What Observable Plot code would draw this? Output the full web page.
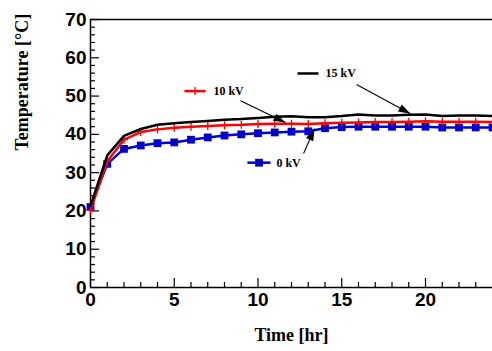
<!DOCTYPE html>
<html><head><meta charset="utf-8">
<script src="https://cdn.jsdelivr.net/npm/d3@7"></script>
<script src="https://cdn.jsdelivr.net/npm/@observablehq/plot@0.6"></script>
<style>body{margin:0;background:#fff} svg{display:block}</style>
</head><body><div id="chart"></div>
<script>
const hours = [0,1,2,3,4,5,6,7,8,9,10,11,12,13,14,15,16,17,18,19,20,21,22,23,24];
const temp15kV = [21.3,34.5,39.6,41.4,42.5,42.9,43.2,43.5,43.8,44.0,44.3,44.6,44.7,44.5,44.5,44.8,45.2,44.9,44.9,45.1,45.2,44.8,44.9,44.9,44.8];
const temp10kV = [20.2,33.0,38.6,40.6,41.3,41.7,42.0,42.2,42.4,42.5,42.7,42.8,42.8,42.7,42.9,43.0,43.1,43.2,43.2,43.3,43.4,43.3,43.3,43.3,43.2];
const temp0kV  = [21.0,32.3,36.2,37.1,37.7,37.9,38.6,39.2,39.7,40.0,40.3,40.5,40.7,40.8,41.6,41.9,42.0,42.0,42.0,42.0,42.0,41.8,41.8,41.8,41.8];

const xMajorTicks = [0,5,10,15,20];
const xMinorTicks = [1,2,3,4,6,7,8,9,11,12,13,14,16,17,18,19,21,22,23];
const yMajorTicks = [0,10,20,30,40,50,60,70];
const yMinorTicks = [2,4,6,8,12,14,16,18,22,24,26,28,32,34,36,38,42,44,46,48,52,54,56,58,62,64,66,68];

const seriesNames = ["15 kV","10 kV","0 kV"];
const seriesColors = ["#000000","#ff0000","#0000cc"];

// annotation anchors (data units)
const labelX = [14.03, 7.34, 11.1];
const labelY = [55.9, 51.3, 32.6];
const sampleX1 = [12.36, 5.61, 9.37];
const sampleX2 = [13.61, 6.87, 10.75];
const arrowX1 = [15.88, 8.96, 12.72];
const arrowY1 = [53.0, 48.8, 35.0];
const arrowX2 = [19.1, 11.64, 13.37];
const arrowY2 = [45.4, 43.1, 41.5];

const rows = (vals) => hours.map((h,i) => ({h, t: vals[i]}));
const s15 = rows(temp15kV), s10 = rows(temp10kV), s0 = rows(temp0kV);
const samples = seriesNames.map((n,i) => ({x1: sampleX1[i], x2: sampleX2[i], y: labelY[i], c: seriesColors[i], xm: (sampleX1[i]+sampleX2[i])/2}));
const labels = seriesNames.map((n,i) => ({x: labelX[i], y: labelY[i], text: n}));
const arrows = seriesNames.map((n,i) => ({x1: arrowX1[i], y1: arrowY1[i], x2: arrowX2[i], y2: arrowY2[i]}));

const W = 492, H = 351, ML = 90, MR = 0, MT = 19, MB = 64;
const innerW = W - ML - MR, innerH = H - MT - MB;
const tickFont = {fontFamily: "Liberation Sans, Arial, sans-serif", fontWeight: "bold", fontSize: 19, fill: "#000"};
const serifBold = {fontFamily: "Liberation Serif, Times New Roman, serif", fontWeight: "bold", fill: "#000"};

function build(headPts) {
  return Plot.plot({
    width: W, height: H,
    marginLeft: ML, marginRight: MR, marginTop: MT, marginBottom: MB,
    x: {domain: [0, 24], axis: null},
    y: {domain: [0, 70], axis: null},
    style: {background: "#fff", overflow: "visible"},
    marks: [
      Plot.ruleY([0], {stroke: "#000", strokeWidth: 1.5}),
      Plot.ruleY([70], {stroke: "#000", strokeWidth: 1.5}),
      Plot.ruleX([0], {stroke: "#000", strokeWidth: 1.5}),
      Plot.tickX(xMajorTicks, {x: d => d, insetTop: innerH - 9, stroke: "#000", strokeWidth: 1.2}),
      Plot.tickX(xMinorTicks, {x: d => d, insetTop: innerH - 5, stroke: "#000", strokeWidth: 1.2}),
      Plot.tickY(yMajorTicks, {y: d => d, insetRight: innerW - 9, stroke: "#000", strokeWidth: 1.2}),
      Plot.tickY(yMinorTicks, {y: d => d, insetRight: innerW - 5, stroke: "#000", strokeWidth: 1.2}),
      Plot.text(xMajorTicks, {x: d => d, frameAnchor: "bottom", dy: 18, text: d => String(d), ...tickFont}),
      Plot.text(yMajorTicks, {y: d => d, frameAnchor: "left", dx: -4, textAnchor: "end", text: d => String(d), ...tickFont}),
      Plot.text(["Temperature [°C]"], {frameAnchor: "left", dx: -68, dy: -3, rotate: -90, fontSize: 18, ...serifBold}),
      Plot.text(["Time [hr]"], {frameAnchor: "bottom", dy: 53, fontSize: 18, ...serifBold}),
      Plot.line(s0, {x: "h", y: "t", stroke: seriesColors[2], strokeWidth: 2.5}),
      Plot.dot(s0, {x: "h", y: "t", symbol: "square", r: 4.4, fill: seriesColors[2], stroke: "none"}),
      Plot.line(s10, {x: "h", y: "t", stroke: seriesColors[1], strokeWidth: 2.5}),
      Plot.dot(s10, {x: "h", y: "t", symbol: "plus", r: 2.7, stroke: seriesColors[1], strokeWidth: 1.3}),
      Plot.line(s15, {x: "h", y: "t", stroke: seriesColors[0], strokeWidth: 2.5}),
      Plot.link(samples, {x1: "x1", x2: "x2", y1: "y", y2: "y", stroke: "c", strokeWidth: 2.5}),
      Plot.dot([samples[1]], {x: "xm", y: "y", symbol: "plus", r: 2.7, stroke: seriesColors[1], strokeWidth: 1.3}),
      Plot.dot([samples[2]], {x: "xm", y: "y", symbol: "square", r: 4.4, fill: seriesColors[2], stroke: "none"}),
      Plot.text(labels, {x: "x", y: "y", text: "text", textAnchor: "start", fontSize: 12, ...serifBold}),
      Plot.link(arrows, {x1: "x1", y1: "y1", x2: "x2", y2: "y2", stroke: "#000", strokeWidth: 1.1}),
      Plot.line(headPts, {x: "x", y: "y", z: "id", fill: "#000", stroke: "none"})
    ]
  });
}

const first = build([]);
const sx = first.scale("x"), sy = first.scale("y");
const headPts = [];
arrows.forEach((a, i) => {
  const px1 = sx.apply(a.x1), py1 = sy.apply(a.y1), px2 = sx.apply(a.x2), py2 = sy.apply(a.y2);
  const ang = Math.atan2(py2 - py1, px2 - px1);
  const L = 12, Wd = 4;
  const bx = px2 - L*Math.cos(ang), by = py2 - L*Math.sin(ang);
  const nx = -Math.sin(ang), ny = Math.cos(ang);
  [[px2, py2], [bx + Wd*nx, by + Wd*ny], [bx - Wd*nx, by - Wd*ny]].forEach(([px, py]) =>
    headPts.push({id: i, x: sx.invert(px), y: sy.invert(py)}));
});
document.getElementById("chart").append(build(headPts));
</script>
</body></html>
